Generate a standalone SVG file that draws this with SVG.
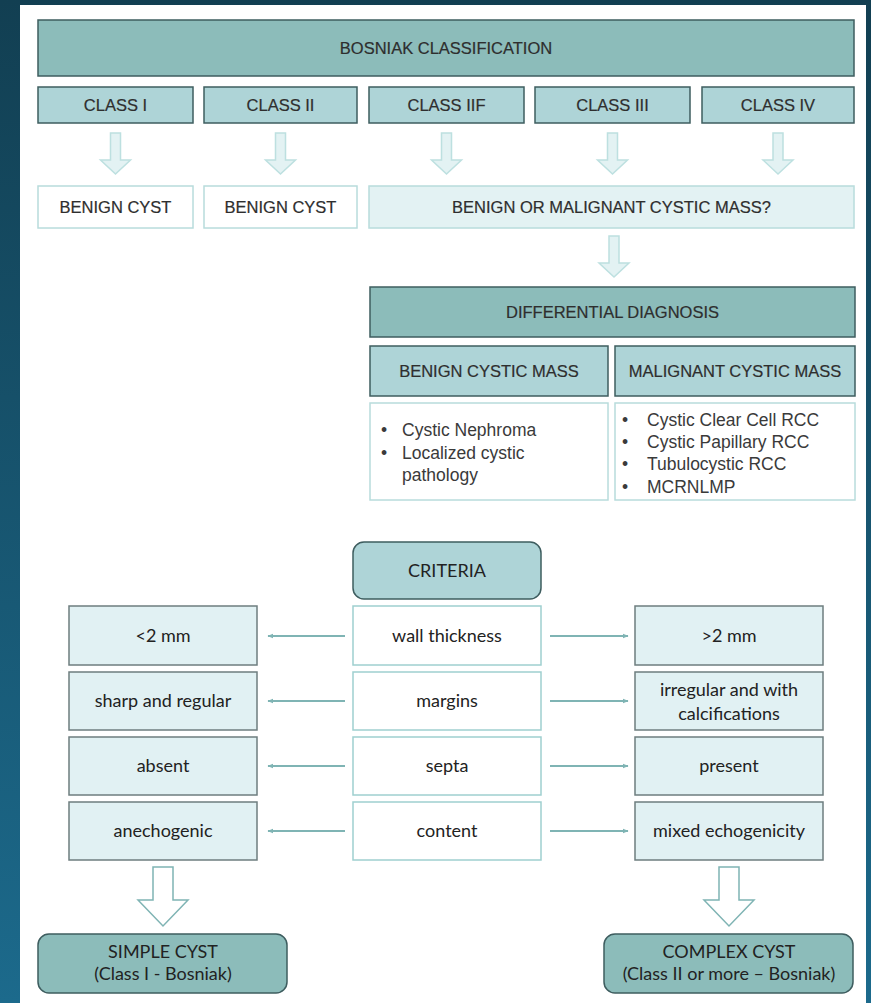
<svg xmlns="http://www.w3.org/2000/svg" width="871" height="1003" viewBox="0 0 871 1003">
<defs>
<linearGradient id="bg" x1="0" y1="0" x2="0" y2="1">
<stop offset="0" stop-color="#123f52"/>
<stop offset="1" stop-color="#1c6a8c"/>
</linearGradient>
<marker id="ah" viewBox="0 0 10 10" refX="9" refY="5" markerWidth="6" markerHeight="6" orient="auto-start-reverse" markerUnits="userSpaceOnUse">
<path d="M0,1 L10,5 L0,9 z" fill="#7fb4b4"/>
</marker>
<path id="parrow" d="M-5,0 H5 V27 H15 L0,41 L-15,27 H-5 Z"/>
<path id="barrow" d="M-10,0 H10 V33 H25 L0,59 L-25,33 H-10 Z"/>
</defs>
<style>
.dk{fill:#8cbcba;stroke:#3e5d5f;stroke-width:1.5}
.md{fill:#aed4d7;stroke:#3e5d5f;stroke-width:1.5}
.wh{fill:#ffffff;stroke:#b8dcdc;stroke-width:1.5}
.pl{fill:#e3f2f3;stroke:#b8dcdc;stroke-width:1.5}
.cw{fill:#ffffff;stroke:#9fcfcf;stroke-width:1.5}
.cs{fill:#e1f1f3;stroke:#6e7d7f;stroke-width:1.5}
.pa{fill:#e3f2f3;stroke:#bde0e0;stroke-width:1.5}
.ba{fill:#ffffff;stroke:#7fb4b4;stroke-width:1.5}
.t{font-family:"Liberation Sans",Arial,sans-serif;font-size:16.5px;fill:#2e2e2e;text-anchor:middle;stroke:#2e2e2e;stroke-width:0.2}
.l{font-family:"Liberation Sans",Arial,sans-serif;font-size:17.5px;fill:#3a3a3a}
.c{font-family:Lato,"Open Sans",sans-serif;font-size:18px;fill:#222;text-anchor:middle}
.ln{stroke:#7fb4b4;stroke-width:2;fill:none}
</style>
<rect x="0" y="0" width="871" height="1003" fill="url(#bg)"/>
<rect x="20" y="5" width="846" height="998" fill="#ffffff"/>

<g id="bosniak"><rect class="dk" x="38" y="20" width="816" height="56"/><text class="t" x="446" y="54">BOSNIAK CLASSIFICATION</text></g>
<g id="class1"><rect class="md" x="38" y="87" width="155" height="36"/><text class="t" x="115.5" y="111">CLASS I</text></g>
<g id="class2"><rect class="md" x="204" y="87" width="153" height="36"/><text class="t" x="280.5" y="111">CLASS II</text></g>
<g id="class2f"><rect class="md" x="369" y="87" width="155" height="36"/><text class="t" x="446.5" y="111">CLASS IIF</text></g>
<g id="class3"><rect class="md" x="535" y="87" width="155" height="36"/><text class="t" x="612.5" y="111">CLASS III</text></g>
<g id="class4"><rect class="md" x="702" y="87" width="152" height="36"/><text class="t" x="778" y="111">CLASS IV</text></g>

<g id="benign1"><rect class="wh" x="38" y="186" width="155" height="42"/><text class="t" x="115.5" y="213">BENIGN CYST</text></g>
<g id="benign2"><rect class="wh" x="204" y="186" width="153" height="42"/><text class="t" x="280.5" y="213">BENIGN CYST</text></g>
<g id="bom"><rect class="pl" x="369" y="186" width="485" height="42"/><text class="t" x="611.5" y="213">BENIGN OR MALIGNANT CYSTIC MASS?</text></g>

<g id="diff"><rect class="dk" x="370" y="287" width="485" height="50"/><text class="t" x="612.5" y="318">DIFFERENTIAL DIAGNOSIS</text></g>
<g id="bcm"><rect class="md" x="370" y="346" width="238" height="50"/><text class="t" x="489" y="377">BENIGN CYSTIC MASS</text></g>
<g id="mcm"><rect class="md" x="615" y="346" width="240" height="50"/><text class="t" x="735" y="377">MALIGNANT CYSTIC MASS</text></g>
<g id="blist"><rect class="wh" x="370" y="403" width="238" height="97"/>
<text class="l" x="381" y="436">•</text><text class="l" x="402" y="436">Cystic Nephroma</text>
<text class="l" x="381" y="459">•</text><text class="l" x="402" y="459">Localized cystic</text>
<text class="l" x="402" y="481">pathology</text></g>
<g id="mlist"><rect class="wh" x="615" y="403" width="240" height="97"/>
<text class="l" x="622" y="426">•</text><text class="l" x="647" y="426">Cystic Clear Cell RCC</text>
<text class="l" x="622" y="448">•</text><text class="l" x="647" y="448">Cystic Papillary RCC</text>
<text class="l" x="622" y="470">•</text><text class="l" x="647" y="470">Tubulocystic RCC</text>
<text class="l" x="622" y="493">•</text><text class="l" x="647" y="493">MCRNLMP</text></g>

<g id="criteria"><rect class="md" x="353" y="542" width="188" height="57" rx="11"/><text class="c" x="447" y="577">CRITERIA</text></g>
<g id="wall"><rect class="cw" x="353" y="606" width="188" height="59"/><text class="c" x="447" y="642">wall thickness</text></g>
<g id="margins"><rect class="cw" x="353" y="672" width="188" height="58"/><text class="c" x="447" y="707">margins</text></g>
<g id="septa"><rect class="cw" x="353" y="737" width="188" height="58"/><text class="c" x="447" y="772">septa</text></g>
<g id="content"><rect class="cw" x="353" y="802" width="188" height="58"/><text class="c" x="447" y="837">content</text></g>

<g id="lt2"><rect class="cs" x="69" y="606" width="188" height="59"/><text class="c" x="163" y="642">&lt;2 mm</text></g>
<g id="sharp"><rect class="cs" x="69" y="672" width="188" height="58"/><text class="c" x="163" y="707">sharp and regular</text></g>
<g id="absent"><rect class="cs" x="69" y="737" width="188" height="58"/><text class="c" x="163" y="772">absent</text></g>
<g id="anecho"><rect class="cs" x="69" y="802" width="188" height="58"/><text class="c" x="163" y="837">anechogenic</text></g>

<g id="gt2"><rect class="cs" x="635" y="606" width="188" height="59"/><text class="c" x="729" y="642">&gt;2 mm</text></g>
<g id="irreg"><rect class="cs" x="635" y="672" width="188" height="58"/><text class="c" x="729" y="696">irregular and with</text><text class="c" x="729" y="720">calcifications</text></g>
<g id="present"><rect class="cs" x="635" y="737" width="188" height="58"/><text class="c" x="729" y="772">present</text></g>
<g id="mixed"><rect class="cs" x="635" y="802" width="188" height="58"/><text class="c" x="729" y="837">mixed echogenicity</text></g>

<g id="simple"><rect class="dk" x="38" y="934" width="249" height="59" rx="11"/><text class="c" x="163" y="958">SIMPLE CYST</text><text class="c" x="163" y="980">(Class I - Bosniak)</text></g>
<g id="complex"><rect class="dk" x="604" y="934" width="249" height="59" rx="11"/><text class="c" x="729" y="958">COMPLEX CYST</text><text class="c" x="729" y="980">(Class II or more – Bosniak)</text></g>

<g id="connectors">
<use href="#parrow" class="pa" x="115.5" y="133"/>
<use href="#parrow" class="pa" x="280.5" y="133"/>
<use href="#parrow" class="pa" x="446.5" y="133"/>
<use href="#parrow" class="pa" x="612.5" y="133"/>
<use href="#parrow" class="pa" x="778" y="133"/>
<use href="#parrow" class="pa" x="614" y="236"/>
<line class="ln" x1="345" y1="636" x2="268" y2="636" marker-end="url(#ah)"/>
<line class="ln" x1="345" y1="701" x2="268" y2="701" marker-end="url(#ah)"/>
<line class="ln" x1="345" y1="766" x2="268" y2="766" marker-end="url(#ah)"/>
<line class="ln" x1="345" y1="831" x2="268" y2="831" marker-end="url(#ah)"/>
<line class="ln" x1="550" y1="636" x2="628" y2="636" marker-end="url(#ah)"/>
<line class="ln" x1="550" y1="701" x2="628" y2="701" marker-end="url(#ah)"/>
<line class="ln" x1="550" y1="766" x2="628" y2="766" marker-end="url(#ah)"/>
<line class="ln" x1="550" y1="831" x2="628" y2="831" marker-end="url(#ah)"/>
<use href="#barrow" class="ba" x="163" y="867"/>
<use href="#barrow" class="ba" x="729" y="867"/>
</g>
</svg>
